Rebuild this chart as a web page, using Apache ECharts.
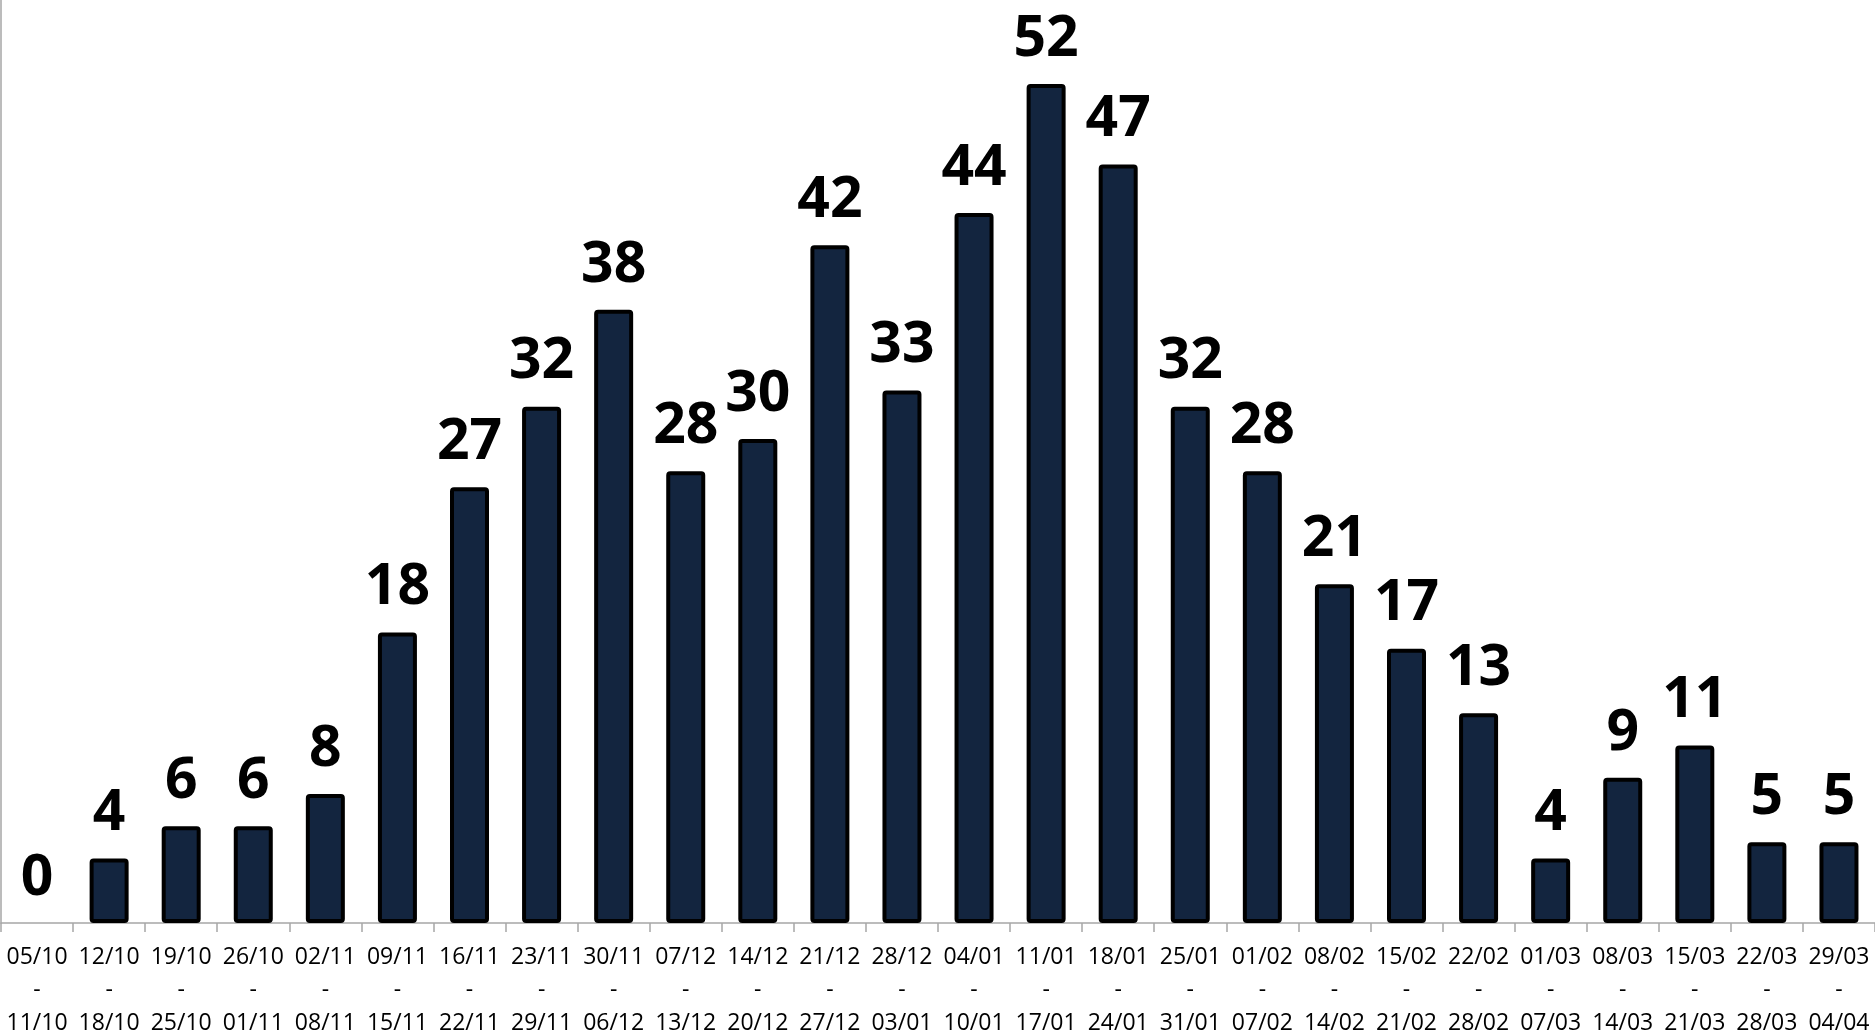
<!DOCTYPE html>
<html><head><meta charset="utf-8">
<script src="https://cdn.jsdelivr.net/npm/echarts@6/dist/echarts.min.js"></script>
<style>html,body{margin:0;padding:0;background:#fff}#c{width:1875px;height:1032px}</style>
</head><body><div id="c"></div>
<script>
const weekStart = ["05/10","12/10","19/10","26/10","02/11","09/11","16/11","23/11","30/11","07/12","14/12","21/12","28/12","04/01","11/01","18/01","25/01","01/02","08/02","15/02","22/02","01/03","08/03","15/03","22/03","29/03"];
const weekEnd = ["11/10","18/10","25/10","01/11","08/11","15/11","22/11","29/11","06/12","13/12","20/12","27/12","03/01","10/01","17/01","24/01","31/01","07/02","14/02","21/02","28/02","07/03","14/03","21/03","28/03","04/04"];
const values = [0,4,6,6,8,18,27,32,38,28,30,42,33,44,52,47,32,28,21,17,13,4,9,11,5,5];
const categories = weekStart.map((s,i)=> s + "\n-\n" + weekEnd[i]);
const barData = values.map(v => ({value:v, itemStyle:{borderWidth: v === 0 ? 0 : 4}}));

const chart = echarts.init(document.getElementById('c'));
chart.setOption({
  animation:false,
  backgroundColor:'#fff',
  grid:{left:1,right:0,top:0,bottom:109,containLabel:false,outerBoundsMode:'none'},
  xAxis:{
    type:'category',
    data:categories,
    axisLine:{lineStyle:{color:'#a6a6a6',width:1.5}},
    axisTick:{show:true,length:9,lineStyle:{color:'#a6a6a6',width:1.5}},
    axisLabel:{interval:0,fontFamily:'Open Sans',fontSize:23,color:'#000',lineHeight:33,margin:18}
  },
  yAxis:{
    type:'value',min:0,max:57.2,
    splitLine:{show:false},
    axisLabel:{show:false},
    axisTick:{show:false},
    axisLine:{show:true,lineStyle:{color:'#a6a6a6',width:1.5}}
  },
  series:[{
    type:'bar',
    data:barData,
    barWidth:39,
    itemStyle:{color:'#13253f',borderColor:'#000',borderWidth:4,borderRadius:2},
    label:{show:true,position:'top',distance:16,fontFamily:'Open Sans',fontWeight:'bold',fontSize:57,color:'#000'}
  }]
});
</script></body></html>
